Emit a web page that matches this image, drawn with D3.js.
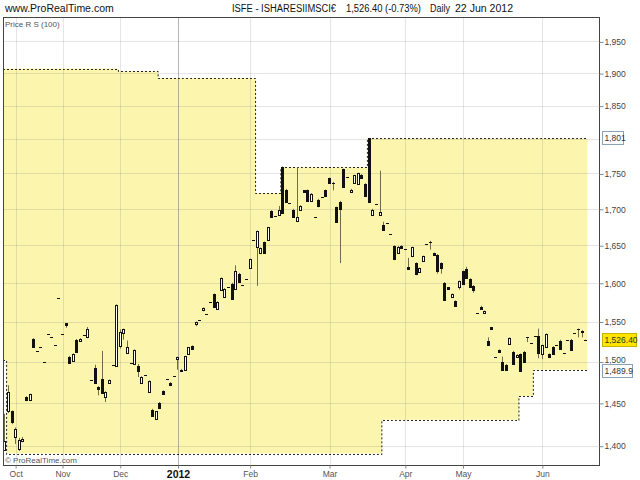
<!DOCTYPE html>
<html>
<head>
<meta charset="utf-8">
<script src="https://cdn.jsdelivr.net/npm/d3@7"></script>
<style>
  body { margin: 0; background: #fff; }
  svg text { font-family: "Liberation Sans", Arial, sans-serif; }
</style>
</head>
<body>
<svg id="chart" width="640" height="480"></svg>
<script>
// daily bars, [open, high, low, close], one array per month
const sep11 = [
  [1395,1437,1394,1405],[1440,1471,1438,1463],[1440,1441,1425,1428]];
const oct11 = [
  [1410,1421,1402,1419],[1396,1409,1394,1406],[1405,1410,1404,1408],[1457,1458,1452,1453],
  [1453,1461,1452,1460],[1528,1529,1517,1518],[1513,1513,1513,1513],[1518,1518,1518,1518],
  [1499,1499,1499,1499],[1534,1534,1534,1534],[1531,1531,1531,1531],[1520,1520,1520,1520],
  [1580,1580,1580,1580]];
const nov11 = [
  [1534,1534,1534,1534],[1548,1548,1542,1545],[1506,1507,1497,1498],[1501,1510,1500,1509],
  [1527,1528,1511,1512],[1526,1529,1525,1528],[1533,1533,1533,1533],[1530,1543,1529,1540],
  [1478,1478,1478,1478],[1492,1496,1473,1474],[1469,1470,1459,1466],[1479,1513,1461,1462],
  [1457,1464,1451,1463],[1474,1478,1473,1478],[1496,1496,1496,1496],[1495,1572,1494,1571]];
const dec11 = [
  [1519,1540,1516,1537],[1535,1541,1527,1540],[1511,1526,1510,1518],[1498,1498,1498,1498],
  [1497,1515,1496,1514],[1494,1497,1481,1489],[1474,1482,1473,1481],[1484,1484,1484,1484],
  [1463,1477,1462,1476],[1442,1443,1434,1434],[1431,1440,1430,1440],[1450,1451,1443,1444],
  [1464,1465,1460,1460],[1479,1479,1479,1479],[1474,1475,1470,1471],[1482,1482,1482,1482]];
const jan12 = [
  [1503,1506,1490,1505],[1490,1491,1488,1488],[1490,1507,1489,1507],[1509,1518,1508,1518],
  [1519,1520,1515,1515],[1547,1550,1544,1549],[1552,1552,1552,1552],[1565,1568,1563,1567],
  [1560,1560,1560,1560],[1575,1575,1575,1575],[1585,1586,1568,1568],[1566,1576,1565,1575],
  [1591,1607,1590,1606],[1582,1593,1581,1592],[1595,1595,1595,1595],[1598,1600,1578,1579],
  [1592,1623,1591,1615],[1612,1613,1600,1601],[1597,1597,1597,1597],[1605,1605,1605,1605]];
const feb12 = [
  [1620,1632,1619,1631],[1657,1657,1657,1657],[1648,1670,1596,1670],[1639,1647,1638,1646],
  [1654,1655,1640,1640],[1657,1675,1656,1675],[1697,1698,1689,1689],[1690,1690,1690,1690],
  [1691,1704,1690,1699],[1759,1760,1694,1694],[1727,1728,1710,1710],[1708,1708,1708,1708],
  [1699,1700,1688,1688],[1683,1759,1682,1689],[1699,1705,1698,1704],[1726,1726,1724,1724],
  [1726,1727,1711,1711],[1711,1722,1710,1721],[1689,1689,1689,1689],[1713,1714,1702,1704],
  [1717,1717,1717,1717],[1726,1727,1718,1718]];
const mar12 = [
  [1743,1744,1736,1736],[1737,1738,1726,1737],[1702,1703,1682,1682],[1710,1711,1626,1700],
  [1756,1757,1730,1730],[1745,1745,1745,1745],[1724,1728,1723,1727],[1737,1748,1736,1748],
  [1735,1751,1734,1751],[1748,1749,1743,1743],[1735,1736,1718,1718],[1801,1801,1710,1710],
  [1691,1700,1690,1699],[1707,1707,1707,1707],[1692,1754,1691,1695],[1678,1682,1670,1671],
  [1681,1681,1681,1681],[1665,1665,1665,1665],[1649,1650,1630,1632],[1640,1649,1639,1648],
  [1649,1650,1645,1646]];
const apr12 = [
  [1645,1645,1645,1645],[1621,1633,1617,1618],[1635,1648,1634,1647],[1626,1627,1610,1611],
  [1614,1620,1613,1619],[1629,1636,1628,1635],[1652,1652,1652,1652],[1655,1656,1644,1655],
  [1639,1640,1636,1637],[1637,1638,1612,1615],[1626,1627,1612,1620],[1600,1601,1577,1578],
  [1594,1594,1592,1592],[1581,1586,1580,1585],[1576,1577,1570,1570],[1594,1603,1591,1602]];
const may12 = [
  [1615,1616,1599,1599],[1618,1621,1605,1606],[1605,1606,1594,1594],[1596,1597,1587,1591],
  [1561,1561,1561,1561],[1569,1570,1565,1566],[1561,1564,1560,1563],[1526,1530,1520,1521],
  [1543,1543,1541,1541],[1506,1506,1506,1506],[1514,1515,1511,1512],[1499,1506,1490,1490],
  [1496,1497,1489,1490],[1522,1530,1521,1529],[1512,1513,1497,1497],[1506,1509,1505,1508],
  [1509,1510,1488,1489],[1512,1513,1500,1500],[1530,1530,1524,1530],[1523,1523,1523,1523],
  [1532,1532,1532,1532],[1532,1541,1504,1510]];
const jun12 = [
  [1509,1521,1503,1520],[1518,1535,1517,1534],[1509,1510,1505,1506],[1518,1519,1509,1509],
  [1520,1520,1520,1520],[1526,1527,1516,1516],[1511,1511,1511,1511],[1527,1527,1527,1527],
  [1527,1528,1514,1514],[1536,1536,1536,1536],[1540,1541,1530,1540],[1538,1539,1530,1537],
  [1526.4,1527,1526,1526.4]];

const monthBars = [sep11, oct11, nov11, dec11, jan12, feb12, mar12, apr12, may12, jun12];
const monthLabels = [null, "Oct", "Nov", "Dec", "2012", "Feb", "Mar", "Apr", "May", "Jun"];

// Price R S (100): [first bar index, level]
const resistSteps = [[0,1907],[32,1903],[43,1892],[70,1722],[77,1759],[101,1801]];
const supportSteps = [[0,1502],[1,1391],[105,1430],[143,1458],[147,1489.9]];

const priceTicks = [1400,1450,1500,1550,1600,1650,1700,1750,1800,1850,1900,1950];
const lastClose = 1526.40;

const svg = d3.select("#chart");
const plotL = 3, plotR = 599, plotT = 17, plotB = 465;

const candles = [];
const monthStarts = [];
monthBars.forEach((m, k) => {
  monthStarts.push({ i: candles.length, label: monthLabels[k] });
  m.forEach(d => candles.push({ i: candles.length, o: d[0], h: d[1], l: d[2], c: d[3] }));
});
const N = candles.length;

const x = d3.scaleLinear().domain([0, N - 1]).range([4.8, 585.7]);
const step = x(1) - x(0);
const y = d3.scaleLog().domain([1400, 1950]).range([445.7, 41.4]);

function level(steps, i) {
  let v = steps[0][1];
  steps.forEach(s => { if (i >= s[0]) v = s[1]; });
  return v;
}
const band = candles.map(d => ({ i: d.i, up: level(resistSteps, d.i), lo: level(supportSteps, d.i) }));
band.push({ i: N, up: band[N - 1].up, lo: band[N - 1].lo });

svg.append("defs").append("clipPath").attr("id", "plotclip")
  .append("rect").attr("x", plotL).attr("y", plotT).attr("width", plotR - plotL).attr("height", plotB - plotT);

const plot = svg.append("g").attr("clip-path", "url(#plotclip)");

// yellow R/S band
plot.append("path")
  .datum(band)
  .attr("fill", "#fbf5ad")
  .attr("d", d3.area()
    .x(d => x(d.i) - step / 2)
    .y0(d => y(d.lo))
    .y1(d => y(d.up))
    .curve(d3.curveStepAfter));

// grid
plot.selectAll(".hgrid")
  .data(priceTicks)
  .join("line")
  .attr("class", "hgrid")
  .attr("x1", plotL).attr("x2", plotR)
  .attr("y1", d => Math.round(y(d)) + 0.5)
  .attr("y2", d => Math.round(y(d)) + 0.5)
  .attr("stroke", "rgba(110,110,110,0.18)");

plot.selectAll(".vgrid")
  .data(monthStarts.filter(d => d.label))
  .join("line")
  .attr("class", "vgrid")
  .attr("x1", d => Math.round(x(d.i)) + 0.5)
  .attr("x2", d => Math.round(x(d.i)) + 0.5)
  .attr("y1", plotT).attr("y2", plotB)
  .attr("stroke", d => d.label === "2012" ? "rgba(90,90,90,0.45)" : "rgba(110,110,110,0.18)");

// band edges, dotted
["up", "lo"].forEach(k => {
  plot.append("path")
    .datum(band)
    .attr("fill", "none")
    .attr("stroke", "#222")
    .attr("stroke-dasharray", "2,2")
    .attr("d", d3.line()
      .x(d => x(d.i) - step / 2)
      .y(d => Math.round(y(d[k])) + 0.5)
      .curve(d3.curveStepAfter));
});

// candles
const bars = plot.selectAll(".candle")
  .data(candles)
  .join("g")
  .attr("class", "candle");

const px = d => Math.round(x(d.i) - 1.5);

bars.append("line")
  .attr("x1", d => px(d) + 1.5).attr("x2", d => px(d) + 1.5)
  .attr("y1", d => y(d.h)).attr("y2", d => y(d.l))
  .attr("stroke", "#6f6c48");

bars.filter(d => d.o !== d.c)
  .append("rect")
  .attr("x", d => px(d) + 0.5)
  .attr("width", 2)
  .attr("y", d => Math.round(y(Math.max(d.o, d.c))) + 0.5)
  .attr("height", d => Math.max(1, Math.round(y(Math.min(d.o, d.c))) - Math.round(y(Math.max(d.o, d.c)))))
  .attr("fill", d => d.c > d.o ? "#fff" : "#111")
  .attr("stroke", "#111");

bars.filter(d => d.o === d.c)
  .append("line")
  .attr("x1", d => px(d)).attr("x2", d => px(d) + 3)
  .attr("y1", d => Math.round(y(d.o)) + 0.5)
  .attr("y2", d => Math.round(y(d.o)) + 0.5)
  .attr("stroke", "#111");

// frame
svg.append("rect")
  .attr("x", plotL + 0.5).attr("y", plotT + 0.5)
  .attr("width", plotR - plotL).attr("height", plotB - plotT)
  .attr("fill", "none").attr("stroke", "#444");

// value boxes on the axis
const boxes = [
  { v: 1801, text: "1,801", fill: "#fff", stroke: "#8aa2b8", w: 21, dy: 0 },
  { v: lastClose, text: d3.format(",.2f")(lastClose), fill: "#ffe600", stroke: "#c8b400", w: 34, dy: 0 },
  { v: 1489.9, text: "1,489.9", fill: "#fff", stroke: "#8aa2b8", w: 30, dy: 1 }
];

// right price axis (the 1,800 level is shown by the 1,801 box)
const yAxis = svg.append("g")
  .attr("transform", `translate(${plotR + 0.5},0.5)`)
  .call(d3.axisRight(y).tickValues(priceTicks.filter(v => v !== 1800))
    .tickFormat(d3.format(",")).tickSize(4).tickPadding(1));
yAxis.select(".domain").remove();
yAxis.selectAll("line").attr("stroke", "#888");
yAxis.selectAll("text").attr("font-size", 8.5).attr("fill", "#444")
  .attr("font-family", "'Liberation Sans', Arial, sans-serif")
  .attr("dy", v => v === 1500 ? "0.05em" : "0.32em");

const bx = svg.selectAll(".vbox").data(boxes).join("g").attr("class", "vbox")
  .attr("transform", d => `translate(602.5,${Math.round(y(d.v)) - 6.5 + d.dy})`);
bx.append("rect").attr("width", d => d.w).attr("height", 13)
  .attr("fill", d => d.fill).attr("stroke", d => d.stroke);
bx.append("text").attr("x", 2).attr("y", 9.5).attr("font-size", 8.5).attr("fill", "#333")
  .text(d => d.text);

// month axis
const labelOf = i => monthStarts.find(m => m.i === i).label;
const xAxis = svg.append("g")
  .attr("transform", `translate(0,${plotB + 0.5})`)
  .call(d3.axisBottom(x)
    .tickValues(monthStarts.filter(d => d.label).map(d => d.i))
    .tickFormat(labelOf)
    .tickSize(3).tickPadding(2));
xAxis.select(".domain").remove();
xAxis.selectAll("line").attr("stroke", "#888");
xAxis.selectAll("text")
  .attr("font-family", "'Liberation Sans', Arial, sans-serif")
  .attr("fill", d => labelOf(d) === "2012" ? "#111" : "#555")
  .attr("font-size", d => labelOf(d) === "2012" ? 10.5 : 8.5)
  .attr("font-weight", d => labelOf(d) === "2012" ? "bold" : "normal");

// header texts
svg.append("text").attr("x", 5).attr("y", 12).attr("font-size", 10.5).attr("fill", "#111")
  .text("www.ProRealTime.com");
const title = [
  { x: 232, w: 104, t: "ISFE - ISHARESIIMSCI€" },
  { x: 346, w: 75, t: "1,526.40 (-0.73%)" },
  { x: 430, w: 20, t: "Daily" },
  { x: 455, w: 58, t: "22 Jun 2012" }
];
svg.selectAll(".title").data(title).join("text").attr("class", "title")
  .attr("x", d => d.x).attr("y", 12).attr("font-size", 10).attr("fill", "#111")
  .attr("textLength", d => d.w).attr("lengthAdjust", "spacingAndGlyphs")
  .text(d => d.t);

svg.append("text").attr("x", 5).attr("y", 27).attr("font-size", 8).attr("fill", "#555")
  .text("Price R S (100)");
svg.append("text").attr("x", 5).attr("y", 463).attr("font-size", 8).attr("fill", "#555")
  .text("© ProRealTime.com");
</script>
</body>
</html>
